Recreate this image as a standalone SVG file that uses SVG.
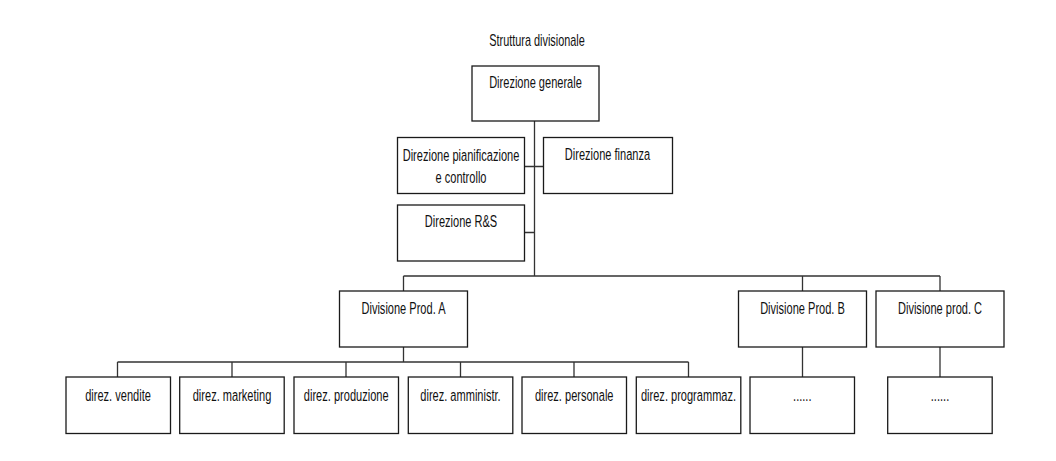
<svg xmlns="http://www.w3.org/2000/svg" width="1056" height="461" viewBox="0 0 1056 461">
<style>
.box{fill:#fff;stroke:#1a1a1a;stroke-width:1.3}
.ln{fill:none;stroke:#333;stroke-width:1.3}
.t{font-family:"Liberation Sans",Arial,sans-serif;font-size:17px;fill:#111;text-anchor:middle}
</style>
<rect width="1056" height="461" fill="#fff"/>
<text class="t" transform="translate(537,46) scale(0.64,1)">Struttura divisionale</text>
<g id="connectors">
<path class="ln" d="M534.5,121 V276 M524,166.5 H543 M524,232.5 H534.5 M403.5,276 H940 M403.5,276 V291 M802.5,276 V291 M940,276 V291 M403.5,347 V362 M117.5,362 H688.5 M117.5,362 V377 M232,362 V377 M346,362 V377 M460.5,362 V377 M574,362 V377 M688.5,362 V377 M802.5,347 V377 M940,347 V377"/>
</g>
<g id="n-generale"><rect class="box" x="472" y="66" width="127" height="55"/><text class="t" transform="translate(535.5,88) scale(0.65,1)">Direzione generale</text></g>
<g id="n-pianificazione"><rect class="box" x="397.5" y="137.5" width="127" height="56"/><text class="t" transform="translate(461,160.7) scale(0.65,1)">Direzione pianificazione</text><text class="t" transform="translate(461,182.7) scale(0.65,1)">e controllo</text></g>
<g id="n-finanza"><rect class="box" x="543.5" y="137.5" width="129" height="56"/><text class="t" transform="translate(607.5,160) scale(0.65,1)">Direzione finanza</text></g>
<g id="n-rs"><rect class="box" x="397.5" y="205" width="127" height="56"/><text class="t" transform="translate(461,227) scale(0.65,1)">Direzione R&amp;S</text></g>
<g id="n-divA"><rect class="box" x="339.5" y="291" width="128" height="56"/><text class="t" transform="translate(403.5,314) scale(0.65,1)">Divisione Prod. A</text></g>
<g id="n-divB"><rect class="box" x="738.5" y="291" width="128" height="56"/><text class="t" transform="translate(802.5,314) scale(0.65,1)">Divisione Prod. B</text></g>
<g id="n-divC"><rect class="box" x="876" y="291" width="128" height="56"/><text class="t" transform="translate(940,314) scale(0.65,1)">Divisione prod. C</text></g>
<g id="n-vendite"><rect class="box" x="66" y="377" width="104.5" height="56.5"/><text class="t" transform="translate(118,400.5) scale(0.65,1)">direz. vendite</text></g>
<g id="n-marketing"><rect class="box" x="179.7" y="377" width="104.5" height="56.5"/><text class="t" transform="translate(232,400.5) scale(0.65,1)">direz. marketing</text></g>
<g id="n-produzione"><rect class="box" x="294" y="377" width="104.5" height="56.5"/><text class="t" transform="translate(346.2,400.5) scale(0.65,1)">direz. produzione</text></g>
<g id="n-amministr"><rect class="box" x="408.3" y="377" width="104.5" height="56.5"/><text class="t" transform="translate(460.5,400.5) scale(0.65,1)">direz. amministr.</text></g>
<g id="n-personale"><rect class="box" x="522" y="377" width="104.5" height="56.5"/><text class="t" transform="translate(574.2,400.5) scale(0.65,1)">direz. personale</text></g>
<g id="n-programmaz"><rect class="box" x="636.3" y="377" width="104.5" height="56.5"/><text class="t" transform="translate(688.5,400.5) scale(0.65,1)">direz. programmaz.</text></g>
<g id="n-B-sub"><rect class="box" x="750" y="377" width="104.5" height="56.5"/><text class="t" transform="translate(802.3,400.5) scale(0.65,1)">......</text></g>
<g id="n-C-sub"><rect class="box" x="887.7" y="377" width="104.5" height="56.5"/><text class="t" transform="translate(940,400.5) scale(0.65,1)">......</text></g>
</svg>
